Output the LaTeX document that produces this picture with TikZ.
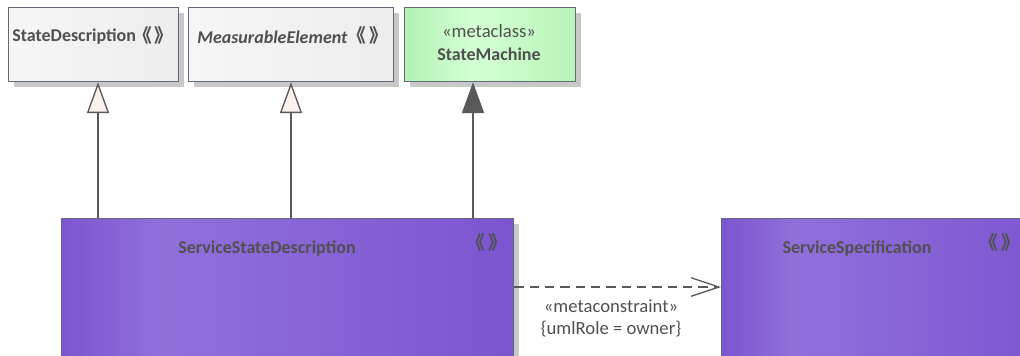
\documentclass[tikz,border=0pt]{standalone}
\usepackage{fontspec}
\setmainfont{Carlito}
\newfontfamily\cjkf{Noto Sans CJK SC}
\usetikzlibrary{arrows.meta,shadows}
\definecolor{txt}{HTML}{505050}
\definecolor{bord}{HTML}{5F6B7A}
\definecolor{conn}{HTML}{595959}
\definecolor{shad}{HTML}{C8C8C8}
\definecolor{trifill}{HTML}{FBF0EC}
\definecolor{p1}{HTML}{7D55D1}
\definecolor{p2}{HTML}{9170DA}
\definecolor{p3}{HTML}{7C54D1}
\definecolor{g1}{HTML}{B2F2B2}
\definecolor{g2}{HTML}{D4FFD4}
\definecolor{g3}{HTML}{B8F4B8}
\definecolor{w1}{HTML}{F6F6F6}
\definecolor{w2}{HTML}{EDEDED}
\newcommand{\stereomark}{\hspace{-0.35em}《\kern0.15em》\hspace{-0.35em}}
\pgfdeclarehorizontalshading{purp}{100bp}{color(0bp)=(p1); color(25bp)=(p1); color(36bp)=(p2); color(75bp)=(p3); color(100bp)=(p3)}
\pgfdeclarehorizontalshading{grn}{100bp}{color(0bp)=(g1); color(25bp)=(g1); color(45bp)=(g2); color(75bp)=(g3); color(100bp)=(g3)}
\tikzset{
  box/.style={draw=bord, line width=1pt, anchor=north west, inner sep=0pt,
    drop shadow={shadow xshift=3.75pt, shadow yshift=-3.75pt, fill=shad, opacity=1}},
  greybox/.style={box, left color=w1, right color=w2},
  greenbox/.style={box, shading=grn},
  purplebox/.style={box, shading=purp},
  lbl/.style={text=txt, inner sep=0pt, font=\fontsize{14}{16}\selectfont},
  blbl/.style={lbl, font=\fontsize{13.5}{16}\selectfont\bfseries},
  ster/.style={text=txt, inner sep=0pt, font=\cjkf\bfseries\fontsize{14}{16}\selectfont},
  conline/.style={draw=conn, line width=1pt},
  gen/.style={conline, -{Triangle[length=23pt, width=16.5pt, fill=trifill]}},
  real/.style={conline, -{Triangle[length=23pt, width=16.5pt, fill=conn]}},
  dep/.style={conline, dash pattern=on 7pt off 4.5pt, -{Straight Barb[length=21pt, width=14pt]}}
}
\begin{document}
\begin{tikzpicture}[x=0.75pt, y=-0.75pt]
\useasboundingbox (0,0) rectangle (1020,355);
\clip (0,0) rectangle (1020,355);
% top boxes
\node[greybox, minimum width=127.5pt, minimum height=55.5pt] (sd) at (8,7) {};
\node[greybox, minimum width=153.75pt, minimum height=55.5pt] (me) at (188,7) {};
\node[greenbox, minimum width=128.25pt, minimum height=55.5pt] (sm) at (404,7) {};
% bottom boxes
\node[purplebox, minimum width=339pt, minimum height=150pt] (ssd) at (61,218) {};
\node[purplebox, minimum width=250pt, minimum height=150pt] (ss) at (721,218) {};
% texts
\node[blbl, anchor=west] (sdt) at (12,37) {StateDescription};
\node[ster] (sds) at (156.5,35) {\stereomark};
\node[blbl, anchor=west] (met) at (197,37) {\itshape MeasurableElement};
\node[ster] (mes) at (371,35) {\stereomark};
\node[lbl] (smst) at (489,31) {«metaclass»};
\node[blbl] (smt) at (489,54) {StateMachine};
\node[blbl] (ssdt) at (267,249) {ServiceStateDescription};
\node[ster] (ssds) at (490,242) {\stereomark};
\node[blbl] (sst) at (857,249) {ServiceSpecification};
\node[ster] (sss) at (1003,242) {\stereomark};
% connectors
\coordinate (c1) at (98,0);
\coordinate (c2) at (291,0);
\coordinate (c3) at (473,0);
\coordinate (c4) at (0,287);
\draw[gen] (ssd.north -| c1) -- (sd.south -| c1);
\draw[gen] (ssd.north -| c2) -- (me.south -| c2);
\draw[real] (ssd.north -| c3) -- (sm.south -| c3);
\draw[dep] (ssd.east |- c4) -- (ss.west |- c4);
\node[lbl] (dl1) at (611,306) {«metaconstraint»};
\node[lbl] (dl2) at (611,329) {\{umlRole = owner\}};
\end{tikzpicture}
\end{document}
